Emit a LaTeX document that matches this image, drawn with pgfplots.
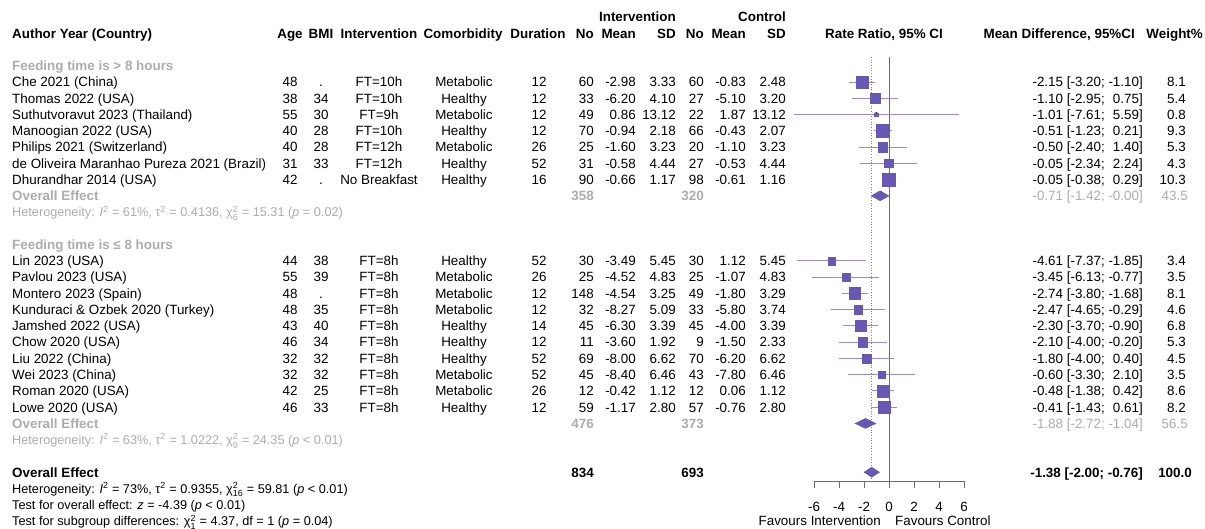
\documentclass[border=0pt]{standalone}
\usepackage{fontspec}
\setmainfont{Liberation Sans}
\usepackage{amsmath}
\usepackage{pgfplots}
\pgfplotsset{compat=1.18}
\usepackage{pgfplotstable}

\definecolor{sq}{RGB}{104,88,180}
\definecolor{ci}{RGB}{150,140,205}
\definecolor{gtxt}{RGB}{172,172,172}
\definecolor{ln}{RGB}{110,110,110}

\pgfplotstableread{
row est lo hi w
4 -2.15 -3.20 -1.10 8.1
5 -1.10 -2.95 0.75 5.4
6 -1.01 -7.61 5.59 0.8
7 -0.51 -1.23 0.21 9.3
8 -0.50 -2.40 1.40 5.3
9 -0.05 -2.34 2.24 4.3
10 -0.05 -0.38 0.29 10.3
15 -4.61 -7.37 -1.85 3.4
16 -3.45 -6.13 -0.77 3.5
17 -2.74 -3.80 -1.68 8.1
18 -2.47 -4.65 -0.29 4.6
19 -2.30 -3.70 -0.90 6.8
20 -2.10 -4.00 -0.20 5.3
21 -1.80 -4.00 0.40 4.5
22 -0.60 -3.30 2.10 3.5
23 -0.48 -1.38 0.42 8.6
24 -0.41 -1.43 0.61 8.2
}\studies

\newcommand{\F}{\fontsize{13.4}{16}\selectfont}
\newcommand{\Fs}{\fontsize{12.7}{14}\selectfont}
\newcommand{\yb}[1]{{17+16.26*(#1)+4.8}}
\newcommand{\TL}[3]{\node[anchor=base west] at (#1,\yb{#2}) {#3};}
\newcommand{\TR}[3]{\node[anchor=base east] at (#1,\yb{#2}) {#3};}
\newcommand{\TC}[3]{\node[anchor=base] at (#1,\yb{#2}) {#3};}
\newcommand{\TS}[3]{\node[anchor=base west,font=\Fs] at (#1,{17+16.26*(#2)+4.5}) {#3};}
\newcommand{\sA}[7]{\TL{12}{#1}{#2}\TC{290}{#1}{#3}\TC{321}{#1}{#4}\TC{379}{#1}{#5}\TC{464}{#1}{#6}\TC{539}{#1}{#7}}
\newcommand{\sB}[9]{\TR{594}{#1}{#2}\TR{636}{#1}{#3}\TR{676}{#1}{#4}\TR{704}{#1}{#5}\TR{746}{#1}{#6}\TR{786}{#1}{#7}\TR{1143}{#1}{#8}\TR{1186}{#1}{#9}}
\newcommand{\sps}[2]{$^{\text{#1}}_{\text{#2}}$}
\newcommand{\spp}[1]{$^{\text{#1}}$}
\newcommand{\pp}{\phantom{-}}

\begin{document}
\begin{tikzpicture}
\path[use as bounding box] (0,0) rectangle (1205pt,529pt);
\begin{axis}[
  at={(814pt,48pt)}, anchor=south west,
  scale only axis, width=150pt, height=424pt,
  xmin=-6, xmax=6, ymin=-28.54, ymax=-2.46,
  clip=false,
  axis y line=none, axis x line*=bottom,
  x axis line style={ln, line width=0.8pt},
  xtick={-6,-4,-2,0,2,4,6},
  xticklabels={-6,-4,-2,0,2,4,6},
  ytick=\empty,
  tick align=outside, major tick length=7pt,
  every tick/.style={ln, line width=0.8pt},
  xticklabel style={font=\F, yshift=-11pt},
]
\addplot[ln, line width=0.8pt] coordinates {(0,-2.46) (0,-28.54)};
\addplot[gray, dotted, line width=0.7pt] coordinates {(-1.38,-2.46) (-1.38,-28.54)};
\addplot[only marks, mark=none,
  error bars/.cd, x dir=both, x explicit, error mark=none,
  error bar style={draw=ci, solid, line width=0.9pt}]
  table[x=est, y expr=-\thisrow{row},
        x error plus expr=\thisrow{hi}-\thisrow{est},
        x error minus expr=\thisrow{est}-\thisrow{lo}] {\studies};
\addplot[scatter, only marks, mark=square*,
  scatter/use mapped color={draw=sq, fill=sq},
  mark options={line width=0.2pt},
  visualization depends on={2.05*sqrt(\thisrow{w}) \as \ms},
  scatter/@pre marker code/.append style={/tikz/mark size=\ms pt}]
  table[x=est, y expr=-\thisrow{row}] {\studies};
% CI inside the largest square is drawn in white, as in the reference
\addplot[white, line width=0.7pt] coordinates {(-0.38,-10) (0.29,-10)};
\addplot[fill=sq, draw=sq] coordinates {(-1.42,-11) (-0.71,-10.69) (0.00,-11) (-0.71,-11.31)} -- cycle;
\addplot[fill=sq, draw=sq] coordinates {(-2.72,-25) (-1.88,-24.69) (-1.04,-25) (-1.88,-25.31)} -- cycle;
\addplot[fill=sq, draw=sq] coordinates {(-2.00,-28) (-1.38,-27.69) (-0.76,-28) (-1.38,-28.31)} -- cycle;
\end{axis}

\begin{scope}[x=1pt, y=-1pt, yshift=529pt, every node/.style={inner sep=0pt, font=\F}]
% headers
\TR{676}{0}{\bfseries Intervention}
\TR{786}{0}{\bfseries Control}
\TL{12}{1}{\bfseries Author Year (Country)}
\TC{290}{1}{\bfseries Age}
\TC{321}{1}{\bfseries BMI}
\TC{379}{1}{\bfseries Intervention}
\TC{463}{1}{\bfseries Comorbidity}
\TC{538}{1}{\bfseries Duration}
\TR{594}{1}{\bfseries No}
\TR{636}{1}{\bfseries Mean}
\TR{676}{1}{\bfseries SD}
\TR{704}{1}{\bfseries No}
\TR{746}{1}{\bfseries Mean}
\TR{786}{1}{\bfseries SD}
\TC{884}{1}{\bfseries Rate Ratio, 95\% CI}
\TR{1135}{1}{\bfseries Mean Difference, 95\%CI}
\TR{1203}{1}{\bfseries Weight\%}
% group 1
\TL{12}{3}{\color{gtxt}\bfseries Feeding time is > 8 hours}
\sA{4}{Che 2021 (China)}{48}{.}{FT=10h}{Metabolic}{12}
\sB{4}{60}{-2.98}{3.33}{60}{-0.83}{2.48}{-2.15 [-3.20; -1.10]}{8.1}
\sA{5}{Thomas 2022 (USA)}{38}{34}{FT=10h}{Healthy}{12}
\sB{5}{33}{-6.20}{4.10}{27}{-5.10}{3.20}{-1.10 [-2.95; \pp0.75]}{5.4}
\sA{6}{Suthutvoravut 2023 (Thailand)}{55}{30}{FT=9h}{Metabolic}{12}
\sB{6}{49}{0.86}{13.12}{22}{1.87}{13.12}{-1.01 [-7.61; \pp5.59]}{0.8}
\sA{7}{Manoogian 2022 (USA)}{40}{28}{FT=10h}{Healthy}{12}
\sB{7}{70}{-0.94}{2.18}{66}{-0.43}{2.07}{-0.51 [-1.23; \pp0.21]}{9.3}
\sA{8}{Philips 2021 (Switzerland)}{40}{28}{FT=12h}{Metabolic}{26}
\sB{8}{25}{-1.60}{3.23}{20}{-1.10}{3.23}{-0.50 [-2.40; \pp1.40]}{5.3}
\sA{9}{de Oliveira Maranhao Pureza 2021 (Brazil)}{31}{33}{FT=12h}{Healthy}{52}
\sB{9}{31}{-0.58}{4.44}{27}{-0.53}{4.44}{-0.05 [-2.34; \pp2.24]}{4.3}
\sA{10}{Dhurandhar 2014 (USA)}{42}{.}{No Breakfast}{Healthy}{16}
\sB{10}{90}{-0.66}{1.17}{98}{-0.61}{1.16}{-0.05 [-0.38; \pp0.29]}{10.3}
\TL{12}{11}{\color{gtxt}\bfseries Overall Effect}
\TR{594}{11}{\color{gtxt}\bfseries 358}
\TR{704}{11}{\color{gtxt}\bfseries 320}
\TR{1143}{11}{\color{gtxt}-0.71 [-1.42; -0.00]}
\TR{1188}{11}{\color{gtxt}43.5}
\TS{12}{12}{\color{gtxt}Heterogeneity: \textit{I}\spp{2} = 61\%, τ\spp{2} = 0.4136, χ\sps{2}{6} = 15.31 (\textit{p} = 0.02)}
% group 2
\TL{12}{14}{\color{gtxt}\bfseries Feeding time is ≤ 8 hours}
\sA{15}{Lin 2023 (USA)}{44}{38}{FT=8h}{Healthy}{52}
\sB{15}{30}{-3.49}{5.45}{30}{1.12}{5.45}{-4.61 [-7.37; -1.85]}{3.4}
\sA{16}{Pavlou 2023 (USA)}{55}{39}{FT=8h}{Metabolic}{26}
\sB{16}{25}{-4.52}{4.83}{25}{-1.07}{4.83}{-3.45 [-6.13; -0.77]}{3.5}
\sA{17}{Montero 2023 (Spain)}{48}{.}{FT=8h}{Metabolic}{12}
\sB{17}{148}{-4.54}{3.25}{49}{-1.80}{3.29}{-2.74 [-3.80; -1.68]}{8.1}
\sA{18}{Kunduraci \& Ozbek 2020 (Turkey)}{48}{35}{FT=8h}{Metabolic}{12}
\sB{18}{32}{-8.27}{5.09}{33}{-5.80}{3.74}{-2.47 [-4.65; -0.29]}{4.6}
\sA{19}{Jamshed 2022 (USA)}{43}{40}{FT=8h}{Healthy}{14}
\sB{19}{45}{-6.30}{3.39}{45}{-4.00}{3.39}{-2.30 [-3.70; -0.90]}{6.8}
\sA{20}{Chow 2020 (USA)}{46}{34}{FT=8h}{Healthy}{12}
\sB{20}{11}{-3.60}{1.92}{9}{-1.50}{2.33}{-2.10 [-4.00; -0.20]}{5.3}
\sA{21}{Liu 2022 (China)}{32}{32}{FT=8h}{Healthy}{52}
\sB{21}{69}{-8.00}{6.62}{70}{-6.20}{6.62}{-1.80 [-4.00; \pp0.40]}{4.5}
\sA{22}{Wei 2023 (China)}{32}{32}{FT=8h}{Metabolic}{52}
\sB{22}{45}{-8.40}{6.46}{43}{-7.80}{6.46}{-0.60 [-3.30; \pp2.10]}{3.5}
\sA{23}{Roman 2020 (USA)}{42}{25}{FT=8h}{Metabolic}{26}
\sB{23}{12}{-0.42}{1.12}{12}{0.06}{1.12}{-0.48 [-1.38; \pp0.42]}{8.6}
\sA{24}{Lowe 2020 (USA)}{46}{33}{FT=8h}{Healthy}{12}
\sB{24}{59}{-1.17}{2.80}{57}{-0.76}{2.80}{-0.41 [-1.43; \pp0.61]}{8.2}
\TL{12}{25}{\color{gtxt}\bfseries Overall Effect}
\TR{594}{25}{\color{gtxt}\bfseries 476}
\TR{704}{25}{\color{gtxt}\bfseries 373}
\TR{1143}{25}{\color{gtxt}-1.88 [-2.72; -1.04]}
\TR{1188}{25}{\color{gtxt}56.5}
\TS{12}{26}{\color{gtxt}Heterogeneity: \textit{I}\spp{2} = 63\%, τ\spp{2} = 1.0222, χ\sps{2}{9} = 24.35 (\textit{p} < 0.01)}
% overall
\TL{12}{28}{\bfseries Overall Effect}
\TR{594}{28}{\bfseries 834}
\TR{704}{28}{\bfseries 693}
\TR{1143}{28}{\bfseries -1.38 [-2.00; -0.76]}
\TR{1192}{28}{\bfseries 100.0}
\TS{12}{29}{Heterogeneity: \textit{I}\spp{2} = 73\%, τ\spp{2} = 0.9355, χ\sps{2}{16} = 59.81 (\textit{p} < 0.01)}
\TS{12}{30}{Test for overall effect: \textit{z} = -4.39 (\textit{p} < 0.01)}
\TS{12}{31}{Test for subgroup differences: χ\sps{2}{1} = 4.37, df = 1 (\textit{p} = 0.04)}
\TR{881}{31}{Favours Intervention}
\TL{895}{31}{Favours Control}
\end{scope}
\end{tikzpicture}
\end{document}
